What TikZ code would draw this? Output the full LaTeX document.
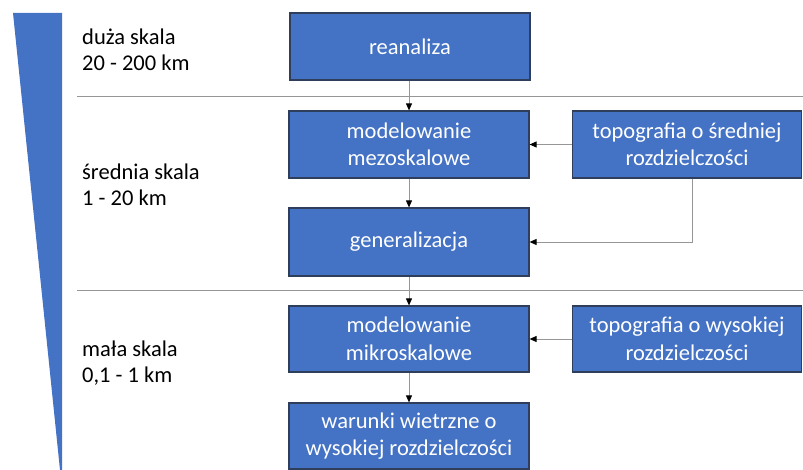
\documentclass[tikz,border=0pt]{standalone}
\usepackage{fontspec}
\setmainfont{Carlito}
\usetikzlibrary{arrows.meta}
\definecolor{boxblue}{RGB}{68,114,196}
\definecolor{boxedge}{RGB}{47,62,90}
\definecolor{linegray}{RGB}{150,150,150}
\begin{document}
\begin{tikzpicture}[x=1pt,y=-1pt,
  stepbox/.style={draw=boxedge,line width=1.2pt,fill=boxblue,text=white,align=center,
    font=\fontsize{22.5}{27.5}\selectfont,inner sep=0pt},
  scaletext/.style={anchor=west,align=left,font=\fontsize{22.5}{26.5}\selectfont,inner sep=0pt},
  conn/.style={draw=linegray,line width=0.9pt,-{Triangle[length=7pt,width=6pt,color=black]}},
  sep/.style={draw=linegray,line width=0.9pt}]
\useasboundingbox (0,0) rectangle (803,470);
% wedge
\fill[boxblue] (13,13) -- (62,13) -- (62,470) -- (60,470) -- cycle;
% boxes
\node[stepbox,minimum width=240pt,minimum height=67pt] (rea) at (410,46.5) {reanaliza};
\node[stepbox,minimum width=240pt,minimum height=67pt] (meso) at (409,144.5) {modelowanie\\mezoskalowe};
\node[stepbox,minimum width=229pt,minimum height=67pt] (topm) at (687,144.5) {topografia o średniej\\rozdzielczości};
\node[stepbox,minimum width=240pt,minimum height=68pt] (gen) at (409,242) {generalizacja};
\node[stepbox,minimum width=240pt,minimum height=66pt] (mikro) at (409,339) {modelowanie\\mikroskalowe};
\node[stepbox,minimum width=229pt,minimum height=66pt] (toph) at (687,339) {topografia o wysokiej\\rozdzielczości};
\node[stepbox,minimum width=240pt,minimum height=66pt] (war) at (409,436) {warunki wietrzne o\\wysokiej rozdzielczości};
% connectors
\draw[conn] (rea.south -| meso.north) -- (meso.north);
\draw[conn] (meso) -- (gen);
\draw[conn] (topm) -- (meso);
\coordinate (bend) at (692,242);
\draw[conn] (topm.south -| bend) -- (bend) -- (gen.east);
\draw[conn] (gen.south -| mikro.north) -- (mikro.north);
\draw[conn] (mikro) -- (war);
\draw[conn] (toph) -- (mikro);
% separators
\coordinate (s1a) at (77,96); \coordinate (s1b) at (803,96);
\coordinate (s2a) at (77,290); \coordinate (s2b) at (803,290);
\draw[sep] (s1a) -- (s1b);
\draw[sep] (s2a) -- (s2b);
% scale labels
\node[scaletext] (l1) at (82,50) {duża skala\\20 - 200 km};
\node[scaletext] (l2) at (82,185) {średnia skala\\1 - 20 km};
\node[scaletext] (l3) at (82,363) {mała skala\\0,1 - 1 km};
\end{tikzpicture}
\end{document}
